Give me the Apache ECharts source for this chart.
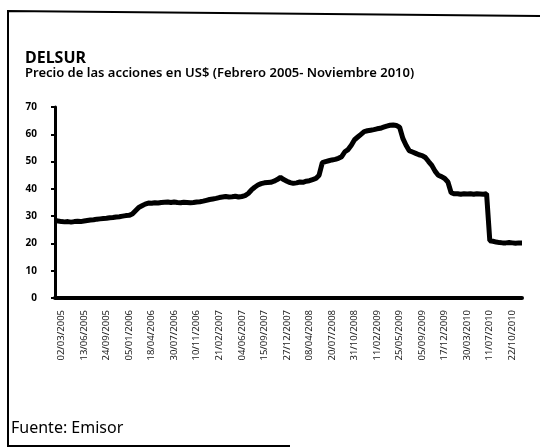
<!DOCTYPE html>
<html>
<head>
<meta charset="utf-8">
<script src="https://cdn.jsdelivr.net/npm/echarts@6/dist/echarts.min.js"></script>
<style>html,body{margin:0;padding:0;background:#fff}#c{width:540px;height:448px}</style>
</head>
<body>
<div id="c"></div>
<script>
// Tick labels shown on the x axis (one every 7 data points, starting at point 2)
var tickLabels = ["02/03/2005","13/06/2005","24/09/2005","05/01/2006","18/04/2006","30/07/2006","10/11/2006",
  "21/02/2007","04/06/2007","15/09/2007","27/12/2007","08/04/2008","20/07/2008","31/10/2008",
  "11/02/2009","25/05/2009","05/09/2009","17/12/2009","30/03/2010","11/07/2010","22/10/2010"];
var firstTickIndex = 2;
var tickStep = 7;

// Share price in US$, Feb 2005 - Nov 2010
var prices = [
  28.5,28.2,28.0,27.9,28.0,27.8,28.0,28.1,28.0,28.2,
  28.4,28.6,28.7,28.9,29.0,29.1,29.2,29.4,29.5,29.7,
  29.8,30.0,30.2,30.3,30.8,32.0,33.2,33.8,34.4,34.8,
  34.7,34.9,34.8,35.0,35.1,35.2,35.0,35.2,35.0,34.9,
  35.1,35.0,34.9,35.0,35.2,35.3,35.5,35.8,36.1,36.3,
  36.5,36.8,37.0,37.2,37.0,37.1,37.3,37.0,37.2,37.5,
  38.3,39.6,40.6,41.4,41.9,42.2,42.3,42.4,42.8,43.4,
  44.2,43.4,42.8,42.3,42.0,42.2,42.5,42.4,42.8,43.0,
  43.4,43.8,45.0,49.6,50.0,50.3,50.6,50.8,51.2,51.8,
  53.6,54.4,56.0,58.0,59.0,60.0,61.0,61.3,61.5,61.7,
  62.0,62.2,62.6,63.0,63.3,63.4,63.2,62.6,58.5,56.0,
  54.0,53.5,53.0,52.5,52.2,51.5,50.0,48.6,46.5,45.0,
  44.5,43.8,42.5,38.6,38.2,38.2,38.0,38.2,38.1,38.2,
  38.0,38.2,38.1,38.0,38.2,21.0,20.8,20.5,20.3,20.2,
  20.2,20.3,20.2,20.1,20.2,20.2
];

var yTicks = [0,10,20,30,40,50,60,70];

var categories = prices.map(function(_, i){
  var k = i - firstTickIndex;
  return (k >= 0 && k % tickStep === 0 && tickLabels[k / tickStep]) ? tickLabels[k / tickStep] : '';
});

var chart = echarts.init(document.getElementById('c'), null, {renderer:'canvas'});
var fontFam = '"Noto Sans", "DejaVu Sans", sans-serif';
chart.setOption({
  animation:false,
  backgroundColor:'#fff',
  grid:{left:55, right:18, top:107, bottom:150, containLabel:false},
  xAxis:{
    type:'category', data:categories, boundaryGap:false,
    axisLine:{lineStyle:{color:'#000', width:4}},
    axisTick:{show:false},
    splitLine:{show:false},
    axisLabel:{
      rotate:90, fontSize:9.5, color:'#222', margin:12, fontFamily:fontFam,
      interval:function(i){ return categories[i] !== ''; }
    }
  },
  yAxis:{
    type:'value', min:yTicks[0], max:yTicks[yTicks.length-1], interval:10,
    axisLine:{show:true, lineStyle:{color:'#000', width:3}},
    axisTick:{show:true, length:4, lineStyle:{color:'#000', width:2}},
    splitLine:{show:false},
    axisLabel:{color:'#000', fontSize:10, fontWeight:'bold', margin:18, fontFamily:fontFam}
  },
  series:[{
    type:'line', data:prices, showSymbol:false, symbol:'none',
    lineStyle:{color:'#000', width:5}, z:3
  }],
  graphic:[
    {type:'polyline', shape:{points:[[540,16],[8,11],[8,446],[290,446]]}, style:{stroke:'#000', lineWidth:2, fill:null}, silent:true},
    {type:'text', left:25, top:50, style:{text:'DELSUR', font:'bold 16px '+fontFam, fill:'#000'}},
    {type:'text', left:25, top:67, style:{text:'Precio de las acciones en US$ (Febrero 2005- Noviembre 2010)', font:'600 13px '+fontFam, fill:'#000'}},
    {type:'text', left:11, top:420, style:{text:'Fuente: Emisor', font:'16px '+fontFam, fill:'#000'}}
  ]
});
</script>
</body>
</html>
